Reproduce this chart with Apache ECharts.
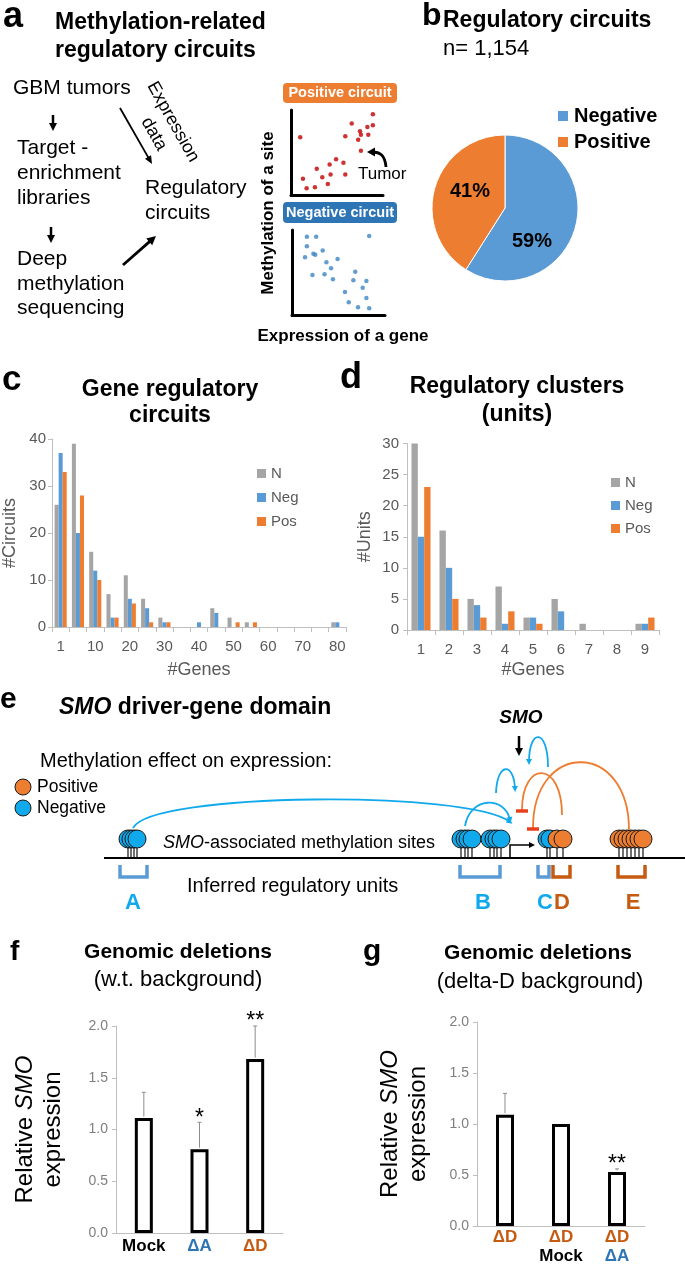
<!DOCTYPE html>
<html><head><meta charset="utf-8">
<script src="https://cdn.jsdelivr.net/npm/echarts@6/dist/echarts.min.js"></script>
<style>html,body{margin:0;padding:0;background:#fff}#c{width:685px;height:1265px}</style>
</head><body><div id="c"></div>
<script>
// ---------------- data ----------------
const pieNames = ['Negative', 'Positive'];
const pieValues = [59, 41];

const circuitCats = ['1','5','10','15','20','25','30','35','40','45','50','55','60','65','70','75','80'];
const circuitN   = [26,39,16,7,11,6,2,0,0,4,2,1,0,0,0,0,1];
const circuitNeg = [37,20,12,2,6,4,1,0,1,3,0,0,0,0,0,0,1];
const circuitPos = [33,28,10,2,5,1,1,0,0,0,1,1,0,0,0,0,0];

const unitCats = ['1','2','3','4','5','6','7','8','9'];
const unitN   = [30,16,5,7,2,5,1,0,1];
const unitNeg = [15,10,4,1,2,3,0,0,1];
const unitPos = [23,5,2,3,1,0,0,0,2];

const fCats  = ['Mock', 'ΔA', 'ΔD'];
const fMean  = [1.11, 0.81, 1.68];
const fUpper = [1.36, 1.07, 2.00];
const fStars = ['', '*', '**'];

const gCats  = ['ΔD', 'ΔD\nMock', 'ΔD\nΔA'];
const gMean  = [1.09, 1.00, 0.53];
const gUpper = [1.30, 1.00, 0.56];
const gStars = ['', '', '**'];

const posCircuitPts = [[10,68],[13,19],[17,8],[26,9],[28,31],[34,21],[40,13],[42,36],[43,24],[49,42],[57,38],[59,24],[59,69],[66,84],[73,65],[75,75],[76,71],[76,52],[83,80],[84,71],[89,82],[89,95]];
const negCircuitPts = [[16,92],[26,92],[16,81],[33,76],[23,72],[25,71],[14,68],[37,62],[49,66],[42,55],[22,47],[35,48],[44,42],[68,51],[66,41],[80,40],[76,32],[57,27],[80,20],[61,15],[71,9],[83,8],[83,93]];

// ---------------- styling helpers ----------------
const FF = '"Liberation Sans", Arial, sans-serif';
const GRAY = '#A5A5A5', BLUE = '#5B9BD5', ORANGE = '#ED7D31';
const CYAN = '#10A9EC', BROWN = '#C55A11', TBAR = '#E8401C';
const G = [];

function txt(x, y, text, size, o) {
  o = o || {};
  const st = {text: text, fontSize: size, fontFamily: FF, fontWeight: o.bold ? 'bold' : 'normal',
    fontStyle: o.italic ? 'italic' : 'normal', fill: o.color || '#000',
    align: o.align || 'left', textAlign: o.align || 'left',
    verticalAlign: o.va || 'middle', textVerticalAlign: o.va || 'middle'};
  if (o.rich) st.rich = o.rich;
  if (o.lh) st.lineHeight = o.lh;
  G.push({type: 'text', x: x, y: y, rotation: o.rot || 0, z: 10, style: st});
}
function head(x, y, ang, len, wid, color) {
  const c = Math.cos(ang), s = Math.sin(ang);
  const bx = x - len * c, by = y - len * s;
  G.push({type: 'polygon', z: 11, shape: {points: [[x, y], [bx - wid * s, by + wid * c], [bx + wid * s, by - wid * c]]}, style: {fill: color}});
}
function arrow(x1, y1, x2, y2, w, color, len, wid) {
  const ang = Math.atan2(y2 - y1, x2 - x1);
  G.push({type: 'line', z: 10, shape: {x1: x1, y1: y1, x2: x2 - len * 0.7 * Math.cos(ang), y2: y2 - len * 0.7 * Math.sin(ang)}, style: {stroke: color, lineWidth: w}});
  head(x2, y2, ang, len, wid, color);
}
function curve(p, color, w, end) {
  G.push({type: 'bezierCurve', z: 10, shape: {x1: p[0], y1: p[1], cpx1: p[2], cpy1: p[3], cpx2: p[4], cpy2: p[5], x2: p[6], y2: p[7]},
    style: {stroke: color, lineWidth: w, fill: null}});
  const ang = Math.atan2(p[7] - p[5], p[6] - p[4]);
  if (end === 'arrow') head(p[6] + 3 * Math.cos(ang), p[7] + 3 * Math.sin(ang), ang, 6, 3, color);
  if (end === 'bar') G.push({type: 'line', z: 11, shape: {x1: p[6] - 6, y1: p[7] + 1, x2: p[6] + 6, y2: p[7] + 1}, style: {stroke: TBAR, lineWidth: 3.5}});
}
function bracket(x1, x2, color) {
  G.push({type: 'polyline', z: 10, shape: {points: [[x1, 865], [x1, 877], [x2, 877], [x2, 865]]}, style: {stroke: color, lineWidth: 3.5, fill: null}});
}
function cluster(xs, colors) {
  xs.forEach(function (x) {
    G.push({type: 'line', z: 9, shape: {x1: x, y1: 846, x2: x, y2: 858}, style: {stroke: '#111', lineWidth: 1.2}});
  });
  xs.forEach(function (x, i) {
    G.push({type: 'circle', z: 10, shape: {cx: x, cy: 839, r: 9}, style: {fill: colors[i], stroke: '#1a1a1a', lineWidth: 1}});
  });
}

// ---------------- panel a ----------------
txt(3, 17, 'a', 36, {bold: true});
txt(55, 23, 'Methylation-related', 23, {bold: true});
txt(55, 51, 'regulatory circuits', 23, {bold: true});
txt(13, 88, 'GBM tumors', 21);
arrow(53, 115, 53, 131, 2.5, '#000', 8, 4);
txt(17, 148, 'Target -', 21);
txt(17, 173, 'enrichment', 21);
txt(17, 198, 'libraries', 21);
arrow(51, 227, 51, 243, 2.5, '#000', 8, 4);
txt(17, 259, 'Deep', 21);
txt(17, 284, 'methylation', 21);
txt(17, 308, 'sequencing', 21);
arrow(120, 108, 152, 164, 1.8, '#000', 8, 3.5);
txt(173, 122, 'Expression', 18, {align: 'center', rot: -1.06});
txt(154, 134, 'data', 18, {align: 'center', rot: -1.06});
txt(145, 188, 'Regulatory', 21);
txt(145, 213, 'circuits', 21);
arrow(123, 265, 156, 236, 2.8, '#000', 9, 4.5);
G.push({type: 'rect', z: 9, shape: {x: 283, y: 83, width: 114, height: 20, r: 4}, style: {fill: ORANGE}});
txt(340, 93, 'Positive circuit', 14.5, {bold: true, color: '#fff', align: 'center'});
G.push({type: 'rect', z: 9, shape: {x: 283, y: 202, width: 114, height: 21, r: 4}, style: {fill: '#2E75B6'}});
txt(340, 213, 'Negative circuit', 14.5, {bold: true, color: '#fff', align: 'center'});
txt(268, 213, 'Methylation of a site', 17, {bold: true, align: 'center', rot: Math.PI / 2});
txt(343, 336, 'Expression of a gene', 17, {bold: true, align: 'center'});
txt(358, 174, 'Tumor', 17);
curve([386, 167, 385, 155, 380, 152, 372, 152], '#000', 2.8, null);
head(367, 152, Math.PI, 8, 4.5, '#000');

// ---------------- panel b ----------------
txt(422, 16, 'b', 32, {bold: true});
txt(443, 21, 'Regulatory circuits', 23, {bold: true});
txt(443, 49, 'n= 1,154', 22);

// ---------------- panel c / d titles ----------------
txt(2, 380, 'c', 35, {bold: true});
txt(170, 390, 'Gene regulatory', 23, {bold: true, align: 'center'});
txt(170, 416, 'circuits', 23, {bold: true, align: 'center'});
txt(340, 378, 'd', 36, {bold: true});
txt(517, 387, 'Regulatory clusters', 23, {bold: true, align: 'center'});
txt(517, 415, '(units)', 23, {bold: true, align: 'center'});

// ---------------- panel e ----------------
txt(0, 700, 'e', 30, {bold: true});
txt(59, 708, '{i|SMO} driver-gene domain', 23, {bold: true,
  rich: {i: {fontStyle: 'italic', fontWeight: 'bold', fontSize: 23, fontFamily: FF}}});
txt(40, 761, 'Methylation effect on expression:', 20);
G.push({type: 'circle', z: 10, shape: {cx: 23, cy: 787, r: 8}, style: {fill: ORANGE, stroke: '#1a1a1a', lineWidth: 1}});
G.push({type: 'circle', z: 10, shape: {cx: 23, cy: 808, r: 8}, style: {fill: CYAN, stroke: '#1a1a1a', lineWidth: 1}});
txt(37, 787, 'Positive', 17.5);
txt(37, 808, 'Negative', 17.5);
G.push({type: 'line', z: 9, shape: {x1: 104, y1: 858, x2: 685, y2: 858}, style: {stroke: '#000', lineWidth: 2}});
cluster([128, 131, 134, 137], [CYAN, CYAN, CYAN, CYAN]);
cluster([461, 465, 468, 472], [CYAN, CYAN, CYAN, CYAN]);
cluster([490, 494, 497, 501], [CYAN, CYAN, CYAN, CYAN]);
cluster([547, 550, 557, 563], [CYAN, CYAN, ORANGE, ORANGE]);
cluster([619, 623, 627, 631, 635, 639, 643], [ORANGE, ORANGE, ORANGE, ORANGE, ORANGE, ORANGE, ORANGE]);
G.push({type: 'polyline', z: 10, shape: {points: [[510, 858], [510, 845], [529, 845]]}, style: {stroke: '#000', lineWidth: 1.5, fill: null}});
head(535, 845, 0, 6, 3, '#000');
txt(163, 843, '{i|SMO}-associated methylation sites', 18,
  {rich: {i: {fontStyle: 'italic', fontSize: 18, fontFamily: FF}}});
txt(187, 886, 'Inferred regulatory units', 20);
bracket(120, 147, BLUE);
bracket(460, 500, BLUE);
bracket(538, 549, BLUE);
bracket(553, 570, BROWN);
bracket(618, 645, BROWN);
txt(133, 903, 'A', 22, {bold: true, color: CYAN, align: 'center'});
txt(483, 903, 'B', 22, {bold: true, color: CYAN, align: 'center'});
txt(545, 903, 'C', 22, {bold: true, color: CYAN, align: 'center'});
txt(562, 903, 'D', 22, {bold: true, color: BROWN, align: 'center'});
txt(633, 903, 'E', 22, {bold: true, color: BROWN, align: 'center'});
curve([133, 828, 150, 792, 470, 790, 510, 822], CYAN, 1.8, 'arrow');
curve([465, 826, 470, 796, 505, 796, 510, 820], CYAN, 1.8, 'arrow');
curve([496, 793, 497, 762, 514, 762, 515, 789], CYAN, 1.8, 'arrow');
curve([548, 767, 548, 728, 529, 728, 529, 762], CYAN, 1.8, 'arrow');
curve([562, 815, 562, 760, 522, 760, 522, 810], ORANGE, 1.8, 'bar');
curve([629, 830, 629, 740, 533, 740, 533, 828], ORANGE, 1.8, 'bar');
txt(521, 718, 'SMO', 19, {bold: true, italic: true, align: 'center'});
arrow(519, 736, 519, 756, 2.5, '#000', 8, 4);

// ---------------- panel f / g titles ----------------
txt(10, 952, 'f', 28, {bold: true});
txt(178, 952, 'Genomic deletions', 21, {bold: true, align: 'center'});
txt(178, 980, '(w.t. background)', 22, {align: 'center'});
txt(363, 952, 'g', 30, {bold: true});
txt(538, 953, 'Genomic deletions', 21, {bold: true, align: 'center'});
txt(540, 982, '(delta-D background)', 22, {align: 'center'});

// ---------------- option ----------------
const axisGray = '#BFBFBF', labGray = '#595959';
function catAxis(grid, data, extra) {
  return Object.assign({type: 'category', gridIndex: grid, data: data,
    axisLine: {lineStyle: {color: axisGray, width: 1}},
    axisTick: {show: true, interval: 0, length: 5, lineStyle: {color: axisGray}},
    axisLabel: {color: labGray, fontSize: 15, fontFamily: FF, margin: 10},
    splitLine: {show: false}}, extra || {});
}
function valAxis(grid, max, interval, extra) {
  return Object.assign({type: 'value', gridIndex: grid, min: 0, max: max, interval: interval,
    axisLine: {show: true, lineStyle: {color: axisGray, width: 1}},
    axisTick: {show: true, length: 4, lineStyle: {color: axisGray}},
    axisLabel: {color: labGray, fontSize: 15, fontFamily: FF, margin: 6},
    splitLine: {show: false}}, extra || {});
}
function hiddenVal(grid) {
  return {type: 'value', gridIndex: grid, min: 0, max: 100,
    axisLine: {show: true, onZero: false, lineStyle: {color: '#000', width: 3}},
    axisTick: {show: false}, axisLabel: {show: false}, splitLine: {show: false}};
}
const catRich = {
  o: {color: BROWN, fontWeight: 'bold', fontSize: 17, fontFamily: FF, lineHeight: 19},
  b: {color: '#2E75B6', fontWeight: 'bold', fontSize: 17, fontFamily: FF, lineHeight: 19},
  k: {color: '#000', fontWeight: 'bold', fontSize: 17, fontFamily: FF, lineHeight: 19}
};
function catFmt(v) {
  return v.split('\n').map(function (s) {
    const k = s === 'Mock' ? 'k' : (s === 'ΔA' ? 'b' : 'o');
    return '{' + k + '|' + s + '}';
  }).join('\n');
}
const nameRich = {i: {fontStyle: 'italic', fontSize: 24, fontFamily: FF, color: '#000'}};
function expAxis(grid, gap) {
  return valAxis(grid, 2.0, 0.5, {
    axisLabel: {color: '#7F7F7F', fontSize: 14, fontFamily: FF, margin: 8, formatter: function (v) { return v.toFixed(1); }},
    name: 'Relative {i|SMO}\nexpression', nameLocation: 'middle', nameGap: gap, nameRotate: 90,
    nameTextStyle: {fontSize: 24, fontFamily: FF, color: '#000', lineHeight: 28, rich: nameRich}
  });
}
function errSeries(name, xi, yi, cats, mean, upper, stars) {
  return {type: 'custom', name: name, xAxisIndex: xi, yAxisIndex: yi, z: 5,
    data: cats.map(function (c, i) { return [i, mean[i], upper[i]]; }),
    encode: {x: 0, y: [1, 2]},
    renderItem: function (params, api) {
      const i = api.value(0), lo = api.value(1), hi = api.value(2);
      const p0 = api.coord([i, lo]), p1 = api.coord([i, hi]);
      const ch = [];
      if (hi > lo) {
        ch.push({type: 'line', shape: {x1: p0[0], y1: p0[1] - 1.5, x2: p1[0], y2: p1[1]}, style: {stroke: '#8C8C8C', lineWidth: 1}});
        ch.push({type: 'line', shape: {x1: p1[0] - 2, y1: p1[1], x2: p1[0] + 2, y2: p1[1]}, style: {stroke: '#8C8C8C', lineWidth: 1}});
      }
      const s = stars[params.dataIndex];
      if (s) ch.push({type: 'text', x: p1[0], y: p1[1] - 4, style: {text: s, fontSize: 23, fontFamily: FF, fill: '#000', align: 'center', verticalAlign: 'middle', textAlign: 'center', textVerticalAlign: 'middle'}});
      return {type: 'group', children: ch};
    }};
}
function barSeries(name, xi, yi, data, color, gapCat) {
  return {type: 'bar', name: name, xAxisIndex: xi, yAxisIndex: yi, data: data,
    barGap: '0%', barCategoryGap: gapCat, itemStyle: {color: color}, emphasis: {disabled: true}};
}

const option = {
  backgroundColor: '#fff',
  animation: false,
  textStyle: {fontFamily: FF},
  graphic: G,
  legend: [
    {data: pieNames, orient: 'vertical', left: 551, top: 101, icon: 'rect', itemWidth: 12, itemHeight: 12, itemGap: 6,
      selectedMode: false, textStyle: {fontSize: 20, fontWeight: 'bold', color: '#000', fontFamily: FF}},
    {data: ['N', 'Neg', 'Pos'], orient: 'vertical', left: 252, top: 461, icon: 'rect', itemWidth: 9, itemHeight: 9, itemGap: 9,
      selectedMode: false, textStyle: {fontSize: 15, color: labGray, fontFamily: FF}},
    {data: ['N', 'Neg', 'Pos'], orient: 'vertical', left: 606, top: 470, icon: 'rect', itemWidth: 9, itemHeight: 9, itemGap: 8,
      selectedMode: false, textStyle: {fontSize: 15, color: labGray, fontFamily: FF}}
  ],
  grid: [
    {left: 52, top: 439, width: 294, height: 188},
    {left: 407, top: 443.5, width: 252, height: 186.5},
    {left: 116, top: 1026, width: 167, height: 207},
    {left: 477, top: 1022, width: 168, height: 206},
    {left: 291, top: 110, width: 92, height: 85},
    {left: 292, top: 230, width: 93, height: 85}
  ],
  xAxis: [
    catAxis(0, circuitCats, {axisLabel: {color: labGray, fontSize: 15, fontFamily: FF, margin: 12, interval: 1},
      name: '#Genes', nameLocation: 'middle', nameGap: 34, nameTextStyle: {fontSize: 18, color: labGray, fontFamily: FF}}),
    catAxis(1, unitCats, {axisLabel: {color: labGray, fontSize: 15, fontFamily: FF, margin: 12, interval: 0},
      name: '#Genes', nameLocation: 'middle', nameGap: 31, nameTextStyle: {fontSize: 18, color: labGray, fontFamily: FF}}),
    catAxis(2, fCats, {axisTick: {show: false}, axisLabel: {formatter: catFmt, rich: catRich, margin: 4, interval: 0, hideOverlap: false, fontSize: 17, fontWeight: 'bold'}}),
    catAxis(3, gCats, {axisTick: {show: false}, axisLabel: {formatter: catFmt, rich: catRich, margin: 2, interval: 0, hideOverlap: false, fontSize: 17, fontWeight: 'bold'}}),
    hiddenVal(4), hiddenVal(5)
  ],
  yAxis: [
    valAxis(0, 40, 10, {name: '#Circuits', nameLocation: 'middle', nameGap: 33, nameTextStyle: {fontSize: 18, color: labGray, fontFamily: FF}}),
    valAxis(1, 30, 5, {axisLabel: {color: labGray, fontSize: 15, fontFamily: FF, margin: 8},
      name: '#Units', nameLocation: 'middle', nameGap: 33, nameTextStyle: {fontSize: 18, color: labGray, fontFamily: FF}}),
    expAxis(2, 49),
    expAxis(3, 45),
    hiddenVal(4), hiddenVal(5)
  ],
  series: [
    {type: 'pie', name: 'circuits', center: [505, 208], radius: 73, startAngle: 90, clockwise: true,
      data: pieNames.map(function (n, i) { return {name: n, value: pieValues[i]}; }),
      color: [BLUE, ORANGE], itemStyle: {borderColor: '#fff', borderWidth: 1},
      label: {show: true, position: 'inside', formatter: '{c}%', fontSize: 20, fontWeight: 'bold', color: '#000', fontFamily: FF},
      labelLine: {show: false}, emphasis: {disabled: true},
      labelLayout: function (p) { return p.dataIndex === 0 ? {x: 532, y: 241} : {x: 470, y: 191}; }},
    barSeries('N', 0, 0, circuitN, GRAY, '30%'),
    barSeries('Neg', 0, 0, circuitNeg, BLUE, '30%'),
    barSeries('Pos', 0, 0, circuitPos, ORANGE, '30%'),
    barSeries('N', 1, 1, unitN, GRAY, '32%'),
    barSeries('Neg', 1, 1, unitNeg, BLUE, '32%'),
    barSeries('Pos', 1, 1, unitPos, ORANGE, '32%'),
    {type: 'bar', name: 'f', xAxisIndex: 2, yAxisIndex: 2, data: fMean, barWidth: 18, z: 3,
      itemStyle: {color: '#fff', borderColor: '#000', borderWidth: 3}, emphasis: {disabled: true}},
    errSeries('fErr', 2, 2, fCats, fMean, fUpper, fStars),
    {type: 'bar', name: 'g', xAxisIndex: 3, yAxisIndex: 3, data: gMean, barWidth: 18, z: 3,
      itemStyle: {color: '#fff', borderColor: '#000', borderWidth: 3}, emphasis: {disabled: true}},
    errSeries('gErr', 3, 3, gCats, gMean, gUpper, gStars),
    {type: 'scatter', name: 'pos', xAxisIndex: 4, yAxisIndex: 4, data: posCircuitPts, symbolSize: 4.5, itemStyle: {color: '#C00000'}},
    {type: 'scatter', name: 'neg', xAxisIndex: 5, yAxisIndex: 5, data: negCircuitPts, symbolSize: 4.5, itemStyle: {color: '#3B86C6'}}
  ]
};
const chart = echarts.init(document.getElementById('c'), null, {renderer: 'canvas', width: 685, height: 1265});
chart.setOption(option);
</script>
</body></html>
